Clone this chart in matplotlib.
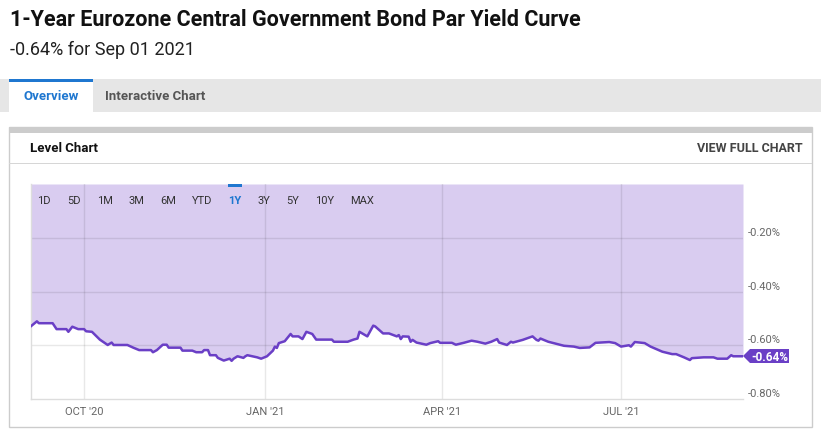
import matplotlib
matplotlib.use("Agg")
import matplotlib.pyplot as plt
from matplotlib.patches import Rectangle, Polygon
import pandas as pd

# ---- data ----
dates = ["2020-09-04", "2020-09-07", "2020-09-08", "2020-09-15", "2020-09-17", "2020-09-22",
         "2020-09-23", "2020-09-25", "2020-09-28", "2020-10-01", "2020-10-02", "2020-10-05",
         "2020-10-09", "2020-10-13", "2020-10-15", "2020-10-16", "2020-10-23", "2020-10-26",
         "2020-10-29", "2020-11-04", "2020-11-05", "2020-11-07", "2020-11-10", "2020-11-12",
         "2020-11-13", "2020-11-19", "2020-11-20", "2020-11-25", "2020-11-27", "2020-11-30",
         "2020-12-01", "2020-12-03", "2020-12-04", "2020-12-07", "2020-12-08", "2020-12-11",
         "2020-12-14", "2020-12-15", "2020-12-16", "2020-12-18", "2020-12-21", "2020-12-22",
         "2020-12-23", "2020-12-28", "2020-12-30", "2021-01-02", "2021-01-05", "2021-01-06",
         "2021-01-07", "2021-01-08", "2021-01-11", "2021-01-14", "2021-01-15", "2021-01-18",
         "2021-01-20", "2021-01-22", "2021-01-25", "2021-01-27", "2021-02-04", "2021-02-05",
         "2021-02-12", "2021-02-15", "2021-02-17", "2021-02-18", "2021-02-22", "2021-02-25",
         "2021-02-26", "2021-03-02", "2021-03-05", "2021-03-09", "2021-03-10", "2021-03-11",
         "2021-03-12", "2021-03-15", "2021-03-16", "2021-03-17", "2021-03-19", "2021-03-24",
         "2021-03-26", "2021-03-30", "2021-03-31", "2021-04-06", "2021-04-08", "2021-04-12",
         "2021-04-16", "2021-04-19", "2021-04-23", "2021-04-26", "2021-04-29", "2021-04-30",
         "2021-05-04", "2021-05-06", "2021-05-07", "2021-05-12", "2021-05-17", "2021-05-19",
         "2021-05-20", "2021-05-21", "2021-05-25", "2021-06-02", "2021-06-07", "2021-06-10",
         "2021-06-15", "2021-06-18", "2021-06-25", "2021-06-28", "2021-07-01", "2021-07-05",
         "2021-07-06", "2021-07-08", "2021-07-13", "2021-07-16", "2021-07-22", "2021-07-27",
         "2021-07-29", "2021-08-02", "2021-08-05", "2021-08-06", "2021-08-12", "2021-08-17",
         "2021-08-19", "2021-08-24", "2021-08-26", "2021-08-27", "2021-09-01"]
yields = [-0.529, -0.511, -0.518, -0.518, -0.540, -0.540,
          -0.550, -0.531, -0.540, -0.540, -0.548, -0.550,
          -0.579, -0.599, -0.590, -0.599, -0.599, -0.609,
          -0.618, -0.618, -0.626, -0.618, -0.598, -0.598,
          -0.609, -0.609, -0.620, -0.620, -0.626, -0.626,
          -0.618, -0.618, -0.637, -0.637, -0.647, -0.657,
          -0.650, -0.658, -0.650, -0.641, -0.647, -0.641,
          -0.637, -0.645, -0.650, -0.641, -0.620, -0.605,
          -0.610, -0.592, -0.585, -0.558, -0.567, -0.567,
          -0.577, -0.550, -0.558, -0.579, -0.579, -0.587,
          -0.587, -0.579, -0.575, -0.550, -0.567, -0.527,
          -0.530, -0.556, -0.556, -0.567, -0.562, -0.577,
          -0.567, -0.568, -0.587, -0.580, -0.590, -0.598,
          -0.592, -0.585, -0.591, -0.591, -0.598, -0.591,
          -0.583, -0.587, -0.594, -0.587, -0.577, -0.590,
          -0.599, -0.587, -0.590, -0.580, -0.567, -0.580,
          -0.583, -0.575, -0.587, -0.602, -0.605, -0.610,
          -0.608, -0.591, -0.588, -0.592, -0.605, -0.600,
          -0.605, -0.588, -0.592, -0.605, -0.624, -0.633,
          -0.633, -0.645, -0.655, -0.648, -0.645, -0.645,
          -0.650, -0.650, -0.637, -0.641, -0.641]
month_ticks = ["2020-10-01", "2021-01-01", "2021-04-01", "2021-07-01"]
month_labels = ["OCT '20", "JAN '21", "APR '21", "JUL '21"]
y_ticks = [-0.20, -0.40, -0.60, -0.80]
y_labels = ["-0.20%", "-0.40%", "-0.60%", "-0.80%"]
range_buttons = ["1D", "5D", "1M", "3M", "6M", "YTD", "1Y", "3Y", "5Y", "10Y", "MAX"]
title = "1-Year Eurozone Central Government Bond Par Yield Curve"
subtitle = "-0.64% for Sep 01 2021"
last_label = "-0.64%"

W, H = 821, 435
FONT = "Roboto"
plt.rcParams['font.family'] = [FONT, 'DejaVu Sans']

fig = plt.figure(figsize=(W / 100, H / 100), dpi=100)
fig.patch.set_facecolor("white")

def fx(x):
    return x / W

def fy(y):
    return 1 - y / H

def rect(x0, y0, x1, y1, zorder=-10, **kw):
    fig.patches.append(Rectangle((fx(x0), fy(y1)), fx(x1) - fx(x0), fy(y0) - fy(y1),
                                 transform=fig.transFigure, zorder=zorder, **kw))

def text(x, y, s, **kw):
    fig.text(fx(x), fy(y), s, zorder=10, **kw)

# header
text(10, 20, title, fontsize=15.5, fontweight="bold", color="#111111", va="center", ha="left")
text(10, 50, subtitle, fontsize=13, color="#222222", va="center", ha="left")

# tab bar
rect(0, 80, W, 113, facecolor="#e6e6e6", edgecolor="none")
rect(9, 80, 93, 113, facecolor="white", edgecolor="none", zorder=-9)
rect(9, 80, 93, 83, facecolor="#1f77d0", edgecolor="none", zorder=-8)
text(51, 97, "Overview", fontsize=9.5, fontweight="bold", color="#1f77d0", va="center", ha="center")
text(155, 97, "Interactive Chart", fontsize=9.5, fontweight="bold", color="#555555", va="center", ha="center")

# card
rect(9, 128, 812, 428, facecolor="white", edgecolor="#cccccc", linewidth=1)
rect(9, 128, 812, 134, facecolor="#cccccc", edgecolor="none", zorder=-9)
rect(9, 164, 812, 165, facecolor="#d6d6d6", edgecolor="none", zorder=-9)
text(30, 149, "Level Chart", fontsize=9.5, fontweight="bold", color="#111111", va="center", ha="left")
text(803, 149, "VIEW FULL CHART", fontsize=9, fontweight="bold", color="#444444", va="center", ha="right")

# plot
x = pd.to_datetime(dates)
ax = fig.add_axes([fx(31), fy(400), fx(743) - fx(31), fy(185) - fy(400)])
ax.patch.set_alpha(0)
ax.fill_between(x, yields, 0, color="#d9ccf0", linewidth=0, zorder=1)
ax.plot(x, yields, color="#6a3fc6", linewidth=1.8, zorder=3, solid_joinstyle="round")
ax.set_xlim(pd.Timestamp("2020-09-04"), pd.Timestamp("2021-09-01"))
ax.set_ylim(-0.80, 0.0)
for t in month_ticks:
    ax.axvline(pd.Timestamp(t), color="black", alpha=0.09, linewidth=1, zorder=2)
for v in y_ticks[:-1]:
    ax.axhline(v, color="black", alpha=0.09, linewidth=1, zorder=2)
ax.set_xticks([])
ax.set_yticks([])
for s in ["top", "right"]:
    ax.spines[s].set_visible(False)
for s in ["left", "bottom"]:
    ax.spines[s].set_color("#dddddd")
    ax.spines[s].set_linewidth(1)

dy = 0.8 / 215
for t, lab in zip(month_ticks, month_labels):
    ax.text(pd.Timestamp(t), -0.8 - 12 * dy, lab, fontsize=8, color="#666666",
            ha="center", va="center", clip_on=False)

for v, lab in zip(y_ticks, y_labels):
    ax.text(1.007, v + 6 * dy, lab, transform=ax.get_yaxis_transform(), fontsize=8,
            color="#666666", ha="left", va="center", clip_on=False)

# range buttons
btn_x = [44, 74, 105, 136, 168, 202, 235, 264, 293, 325, 362]
for bx, lab in zip(btn_x, range_buttons):
    col = "#1f77d0" if lab == "1Y" else "#333333"
    text(bx, 201, lab, fontsize=8, color=col, va="center", ha="center",
         fontweight="bold" if lab == "1Y" else "normal")
rect(228, 185, 242, 188, facecolor="#1f77d0", edgecolor="none", zorder=10)

# last value tag
tag = Polygon([(fx(743), fy(357)), (fx(750), fy(350)), (fx(789), fy(350)),
               (fx(789), fy(364)), (fx(750), fy(364))], closed=True,
              transform=fig.transFigure, facecolor="#6a3fc6", edgecolor="none", zorder=9)
fig.patches.append(tag)
text(770, 357.5, last_label, fontsize=8.5, fontweight="bold", color="white", va="center", ha="center")

fig.savefig("out.png", dpi=100, facecolor="white")
